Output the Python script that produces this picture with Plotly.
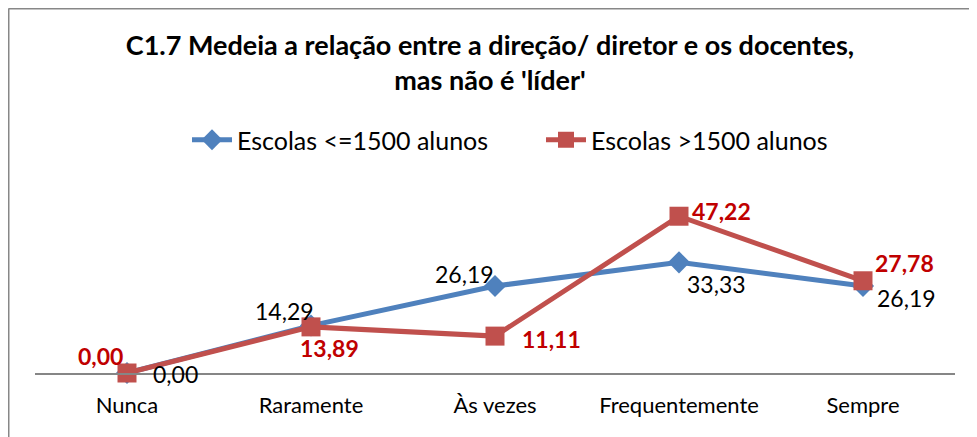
import plotly.graph_objects as go

categories = ["Nunca", "Raramente", "Às vezes", "Frequentemente", "Sempre"]
small_schools = [0.00, 14.29, 26.19, 33.33, 26.19]
large_schools = [0.00, 13.89, 11.11, 47.22, 27.78]
series_names = ["Escolas <=1500 alunos", "Escolas >1500 alunos"]
title_text = "C1.7 Medeia a relação entre a direção/ diretor e os docentes,<br>mas não é 'líder'"

# label offsets (style, px)
small_shift = [(48, -1), (-27, 15), (-31, 12), (37, -22), (43, -12)]
large_shift = [(-27, 17), (18, -21), (56, -3), (42, 5), (41, 18)]

OFF = 8  # page body margin
W, H = 977 - OFF, 437 - OFF
L, T = 35 - OFF, 207 - OFF
plot_right, plot_bottom = 955 - OFF, 373 - OFF
R, B = W - plot_right, H - plot_bottom
pw, ph = W - L - R, H - T - B

BLUE = "#4F81BD"
RED = "#C0504D"
FONT = "Lato"

def fmt(v):
    return f"{v:.2f}".replace(".", ",")

fig = go.Figure()
fig.add_trace(go.Scatter(
    x=categories, y=small_schools, name=series_names[0], mode="lines+markers",
    line=dict(color=BLUE, width=5),
    marker=dict(symbol="diamond", size=17, color=BLUE),
    cliponaxis=False,
))
fig.add_trace(go.Scatter(
    x=categories, y=large_schools, name=series_names[1], mode="lines+markers",
    line=dict(color=RED, width=5),
    marker=dict(symbol="square", size=19, color=RED),
    cliponaxis=False,
))

annotations = []
for c, v, (dx, dy) in zip(categories, small_schools, small_shift):
    annotations.append(dict(x=c, y=v, text=fmt(v), showarrow=False,
                            xshift=dx, yshift=dy,
                            font=dict(family=FONT, size=23, color="#000000")))
for c, v, (dx, dy) in zip(categories, large_schools, large_shift):
    annotations.append(dict(x=c, y=v, text="<b>" + fmt(v) + "</b>", showarrow=False,
                            xshift=dx, yshift=dy,
                            font=dict(family=FONT, size=23, color="#C00000")))

def px_x(p):
    return (p - OFF - L) / pw

def px_y(p):
    return 1 - (p - OFF - T) / ph

shapes = [
    dict(type="line", xref="paper", yref="paper",
         x0=px_x(OFF + 0.5), x1=px_x(1000), y0=px_y(OFF + 0.5), y1=px_y(OFF + 0.5),
         line=dict(color="#878787", width=2)),
    dict(type="line", xref="paper", yref="paper",
         x0=px_x(OFF + 0.5), x1=px_x(OFF + 0.5), y0=px_y(OFF + 0.5), y1=px_y(440),
         line=dict(color="#878787", width=2)),
]

fig.update_layout(
    width=W, height=H,
    margin=dict(l=L, r=R, t=T, b=B, pad=0),
    paper_bgcolor="white", plot_bgcolor="white",
    font=dict(family=FONT, size=22, color="#000000"),
    title=dict(text="<b>" + title_text + "</b>", x=(490 - OFF) / W, xanchor="center",
               y=1 - (55 - OFF) / H, yanchor="middle",
               font=dict(family=FONT, size=27, color="#000000")),
    showlegend=True,
    legend=dict(orientation="h", x=px_x(187), xanchor="left",
                y=px_y(140), yanchor="middle",
                font=dict(family=FONT, size=25, color="#000000"),
                itemwidth=40, tracegroupgap=0, entrywidth=299,
                bgcolor="rgba(0,0,0,0)"),
    xaxis=dict(showline=True, linecolor="#868686", linewidth=2,
               showgrid=False, zeroline=False, ticks="", ticklabelstandoff=12,
               tickfont=dict(family=FONT, size=22, color="#000000"),
               range=[-0.5, 4.5]),
    yaxis=dict(range=[0, 50], visible=False, showgrid=False, zeroline=False),
    annotations=annotations,
    shapes=shapes,
)

fig.write_html("out.html")
